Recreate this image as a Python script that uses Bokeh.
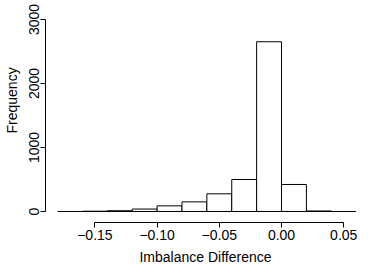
from bokeh.plotting import figure
from bokeh.models import Range1d, FixedTicker, Title
from bokeh.embed import file_html
from bokeh.resources import INLINE

# ---- data ----
bin_edges = [-0.16, -0.14, -0.12, -0.10, -0.08, -0.06, -0.04, -0.02, 0.00, 0.02, 0.04]
counts = [4, 12, 38, 88, 150, 276, 500, 2652, 422, 8]
x_ticks = [-0.15, -0.10, -0.05, 0.00, 0.05]
x_tick_labels = ["\u22120.15", "\u22120.10", "\u22120.05", "0.00", "0.05"]
y_ticks = [0, 1000, 2000, 3000]
y_tick_labels = ["0", "1000", "2000", "3000"]
baseline_x = [-0.18, 0.06]
x_label = "Imbalance Difference"
y_label = "Frequency"

FONT = "Liberation Sans"
FS = "14px"

p = figure(width=374, height=279, output_backend="svg", toolbar_location=None,
           x_range=Range1d(-0.1897, 0.0675), y_range=Range1d(-172, 3140),
           min_border_left=45, min_border_right=9, min_border_top=10, min_border_bottom=57)

p.quad(left=bin_edges[:-1], right=bin_edges[1:], top=counts, bottom=0,
       fill_color="white", line_color="black", line_width=1)
p.segment(x0=[baseline_x[0]], y0=[0], x1=[baseline_x[1]], y1=[0], line_color="black", line_width=1)

p.grid.visible = False
p.outline_line_color = None
p.background_fill_color = "white"
p.border_fill_color = "white"

for ax in (p.xaxis[0], p.yaxis[0]):
    ax.minor_tick_line_color = None
    ax.major_tick_in = 0
    ax.major_tick_out = 5
    ax.axis_line_color = "black"
    ax.major_tick_line_color = "black"
    ax.major_label_text_font = FONT
    ax.major_label_text_font_size = FS
    ax.major_label_text_color = "black"
    ax.axis_label_text_font = FONT
    ax.axis_label_text_font_size = FS
    ax.axis_label_text_font_style = "normal"
    ax.axis_label_text_color = "black"

xa = p.xaxis[0]
xa.ticker = FixedTicker(ticks=x_ticks)
xa.bounds = (x_ticks[0], x_ticks[-1])
xa.major_label_overrides = {t: l for t, l in zip(x_ticks, x_tick_labels)}
xa.major_label_standoff = 2
xa.axis_label = x_label
xa.axis_label_standoff = 6

ya = p.yaxis[0]
ya.ticker = FixedTicker(ticks=y_ticks)
ya.bounds = (y_ticks[0], y_ticks[-1])
ya.major_label_overrides = {t: l for t, l in zip(y_ticks, y_tick_labels)}
ya.major_label_orientation = "vertical"
ya.major_label_standoff = 1
ya.axis_label = " "
ya.axis_label_text_font_size = "1px"
ya.axis_label_standoff = 3

ytitle = Title(text=y_label, align="left", offset=89, text_font=FONT,
               text_font_size=FS, text_font_style="normal", text_color="black",
               standoff=0)
p.add_layout(ytitle, "left")

open("out.html", "w").write(file_html(p, INLINE))
